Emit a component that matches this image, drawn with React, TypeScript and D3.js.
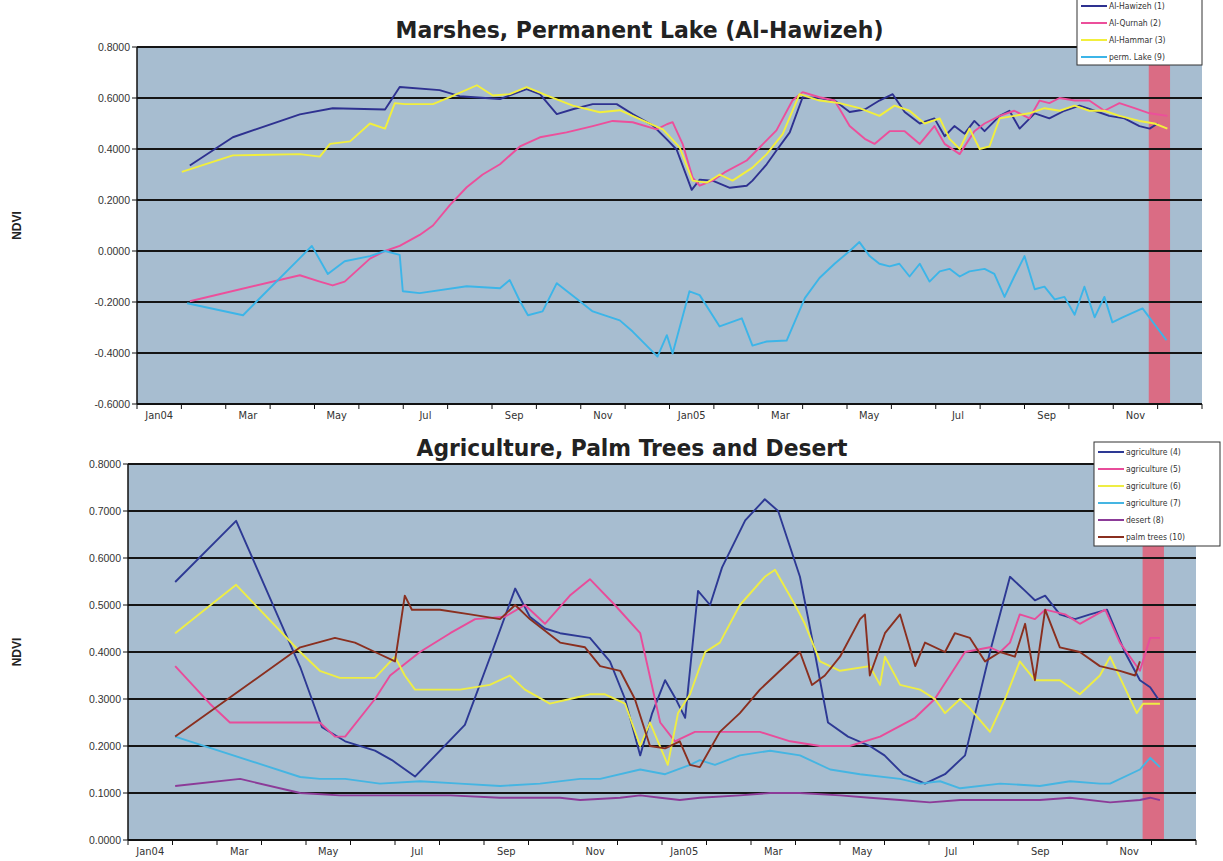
import React from "react";
import * as d3 from "d3";

// x values are months since 1 Jan 2004, y values are NDVI
type Pt = [number, number];

const monthLabels = ["Jan04", "Mar", "May", "Jul", "Sep", "Nov", "Jan05", "Mar", "May", "Jul", "Sep", "Nov"];
const marshTicks = [0.8, 0.6, 0.4, 0.2, 0, -0.2, -0.4, -0.6];
const landTicks = [0.8, 0.7, 0.6, 0.5, 0.4, 0.3, 0.2, 0.1, 0];
const alertBand = [22.8, 23.28];

const hawizeh: Pt[] = [[1.19,0.335],[2.16,0.446],[3.67,0.536],[4.41,0.56],[5.59,0.555],[5.92,0.643],[6.82,0.631],[7.27,0.607],[8.18,0.596],[8.78,0.635],[9.08,0.615],[9.46,0.537],[9.82,0.556],[10.27,0.576],[10.81,0.576],[11.17,0.537],[11.62,0.493],[11.94,0.438],[12.16,0.398],[12.5,0.24],[12.68,0.28],[12.97,0.276],[13.36,0.248],[13.74,0.256],[13.87,0.276],[14.19,0.34],[14.41,0.394],[14.71,0.465],[15.0,0.603],[15.38,0.6],[15.72,0.59],[16.06,0.545],[16.4,0.555],[16.73,0.59],[17.03,0.615],[17.3,0.545],[17.64,0.5],[17.97,0.52],[18.2,0.45],[18.42,0.49],[18.65,0.46],[18.87,0.51],[19.1,0.47],[19.44,0.53],[19.66,0.55],[19.89,0.48],[20.23,0.54],[20.56,0.52],[20.9,0.55],[21.24,0.57],[21.58,0.55],[21.91,0.53],[22.25,0.52],[22.59,0.49],[22.82,0.48],[23.0,0.5]];
const qurnah: Pt[] = [[1.19,-0.197],[3.67,-0.095],[4.12,-0.12],[4.41,-0.135],[4.68,-0.12],[5.25,-0.03],[5.59,0.0],[5.92,0.02],[6.37,0.063],[6.67,0.1],[7.05,0.18],[7.43,0.25],[7.79,0.3],[8.18,0.34],[8.63,0.41],[9.08,0.446],[9.68,0.465],[10.27,0.49],[10.72,0.51],[11.17,0.505],[11.71,0.477],[11.94,0.497],[12.07,0.505],[12.3,0.418],[12.52,0.288],[12.68,0.256],[12.97,0.276],[13.24,0.308],[13.74,0.355],[14.03,0.406],[14.41,0.473],[14.77,0.59],[15.0,0.623],[15.38,0.603],[15.72,0.59],[16.06,0.49],[16.4,0.44],[16.62,0.42],[16.96,0.47],[17.3,0.47],[17.64,0.42],[17.97,0.49],[18.2,0.42],[18.54,0.38],[18.87,0.47],[19.1,0.5],[19.44,0.53],[19.77,0.55],[20.11,0.52],[20.34,0.59],[20.56,0.58],[20.79,0.6],[21.13,0.59],[21.46,0.59],[21.8,0.55],[22.14,0.58],[22.48,0.56],[22.82,0.54],[23.22,0.53]];
const hammar: Pt[] = [[1.01,0.31],[2.16,0.375],[3.67,0.38],[4.12,0.37],[4.35,0.42],[4.8,0.43],[5.25,0.5],[5.59,0.48],[5.81,0.58],[6.04,0.576],[6.67,0.576],[7.05,0.603],[7.66,0.65],[8.02,0.61],[8.4,0.615],[8.78,0.643],[9.23,0.61],[9.82,0.57],[10.43,0.544],[10.88,0.552],[11.33,0.517],[11.85,0.477],[12.23,0.406],[12.52,0.276],[12.84,0.268],[13.13,0.3],[13.42,0.276],[13.87,0.327],[14.19,0.38],[14.55,0.458],[14.93,0.615],[15.38,0.59],[15.83,0.58],[16.28,0.56],[16.73,0.53],[17.07,0.57],[17.41,0.55],[17.75,0.5],[18.09,0.52],[18.31,0.44],[18.54,0.4],[18.76,0.48],[18.99,0.4],[19.21,0.41],[19.44,0.52],[19.77,0.53],[20.11,0.54],[20.45,0.56],[20.79,0.55],[21.13,0.57],[21.46,0.55],[21.8,0.55],[22.14,0.53],[22.59,0.51],[22.93,0.5],[23.22,0.48]];
const permLake: Pt[] = [[1.13,-0.205],[2.39,-0.252],[2.7,-0.197],[3.67,-0.028],[3.94,0.02],[4.3,-0.09],[4.68,-0.04],[5.25,-0.02],[5.59,0.0],[5.92,-0.015],[5.99,-0.158],[6.37,-0.165],[7.43,-0.138],[8.18,-0.146],[8.4,-0.114],[8.63,-0.197],[8.81,-0.252],[9.14,-0.237],[9.46,-0.126],[9.98,-0.197],[10.27,-0.237],[10.88,-0.272],[11.17,-0.316],[11.73,-0.414],[11.94,-0.33],[12.07,-0.402],[12.45,-0.158],[12.68,-0.173],[13.13,-0.296],[13.63,-0.264],[13.87,-0.371],[14.19,-0.355],[14.64,-0.351],[15.05,-0.185],[15.38,-0.106],[15.72,-0.05],[16.06,0.0],[16.28,0.035],[16.51,-0.02],[16.73,-0.05],[16.96,-0.06],[17.18,-0.05],[17.41,-0.1],[17.64,-0.05],[17.86,-0.12],[18.09,-0.08],[18.31,-0.07],[18.54,-0.1],[18.76,-0.08],[19.1,-0.07],[19.32,-0.09],[19.55,-0.18],[19.77,-0.1],[20.0,-0.02],[20.23,-0.15],[20.45,-0.14],[20.68,-0.19],[20.9,-0.18],[21.13,-0.25],[21.35,-0.14],[21.58,-0.26],[21.8,-0.18],[21.98,-0.28],[22.21,-0.26],[22.66,-0.225],[23.2,-0.35]];

const agri4: Pt[] = [[1.06,0.549],[2.43,0.679],[3.87,0.368],[4.36,0.24],[4.88,0.21],[5.55,0.19],[5.93,0.17],[6.45,0.135],[7.57,0.245],[8.18,0.4],[8.7,0.535],[9.03,0.475],[9.37,0.45],[9.71,0.44],[10.38,0.43],[10.83,0.38],[11.17,0.3],[11.51,0.18],[11.78,0.27],[12.07,0.34],[12.31,0.3],[12.52,0.26],[12.81,0.53],[13.08,0.5],[13.35,0.58],[13.87,0.68],[14.31,0.725],[14.61,0.7],[15.1,0.56],[15.37,0.43],[15.73,0.25],[16.18,0.22],[16.67,0.2],[17.0,0.18],[17.42,0.14],[17.91,0.12],[18.36,0.14],[18.81,0.18],[19.37,0.4],[19.82,0.56],[20.16,0.53],[20.38,0.51],[20.61,0.52],[20.94,0.48],[21.28,0.47],[21.62,0.48],[22.0,0.49],[22.4,0.4],[22.74,0.34],[22.97,0.325],[23.15,0.3]];
const agri5: Pt[] = [[1.06,0.37],[1.84,0.29],[2.29,0.25],[3.87,0.25],[4.31,0.25],[4.65,0.22],[4.88,0.22],[5.55,0.3],[5.89,0.35],[6.56,0.4],[7.24,0.44],[7.8,0.47],[8.47,0.475],[8.92,0.5],[9.37,0.46],[9.93,0.52],[10.38,0.555],[10.94,0.5],[11.51,0.44],[11.96,0.25],[12.29,0.21],[12.74,0.23],[13.3,0.23],[14.2,0.23],[14.88,0.21],[15.55,0.2],[16.22,0.2],[16.9,0.22],[17.69,0.26],[18.13,0.3],[18.47,0.35],[18.81,0.4],[19.37,0.41],[19.6,0.4],[19.82,0.42],[20.04,0.48],[20.38,0.47],[20.61,0.49],[21.06,0.48],[21.39,0.46],[21.96,0.49],[22.29,0.42],[22.74,0.36],[22.97,0.43],[23.19,0.43]];
const agri6: Pt[] = [[1.06,0.44],[2.43,0.543],[3.87,0.4],[4.31,0.36],[4.76,0.345],[5.55,0.345],[6.0,0.39],[6.22,0.35],[6.45,0.32],[7.46,0.32],[8.13,0.33],[8.58,0.35],[8.92,0.32],[9.48,0.29],[9.93,0.3],[10.38,0.31],[10.72,0.31],[11.17,0.29],[11.51,0.2],[11.73,0.25],[12.13,0.16],[12.36,0.27],[12.63,0.31],[12.97,0.4],[13.3,0.42],[13.75,0.5],[14.31,0.56],[14.54,0.575],[14.99,0.5],[15.21,0.46],[15.55,0.38],[16.0,0.36],[16.67,0.37],[16.9,0.33],[17.01,0.39],[17.35,0.33],[17.8,0.32],[18.13,0.3],[18.36,0.27],[18.7,0.3],[18.92,0.28],[19.37,0.23],[19.71,0.3],[20.04,0.38],[20.38,0.34],[20.94,0.34],[21.39,0.31],[21.84,0.35],[22.07,0.39],[22.67,0.27],[22.81,0.29],[23.19,0.29]];
const agri7: Pt[] = [[1.06,0.22],[3.87,0.134],[4.31,0.13],[4.88,0.13],[5.66,0.12],[6.56,0.125],[7.46,0.12],[8.36,0.115],[9.26,0.12],[10.16,0.13],[10.61,0.13],[11.51,0.15],[12.07,0.14],[12.63,0.16],[12.85,0.17],[13.19,0.16],[13.75,0.18],[14.43,0.19],[15.1,0.18],[15.78,0.15],[16.45,0.14],[17.35,0.13],[17.8,0.12],[18.25,0.125],[18.7,0.11],[19.6,0.12],[20.49,0.115],[21.17,0.125],[21.84,0.12],[22.07,0.12],[22.74,0.15],[22.97,0.175],[23.19,0.155]];
const desert: Pt[] = [[1.06,0.115],[2.52,0.13],[3.87,0.1],[4.76,0.095],[7.24,0.095],[8.36,0.09],[9.71,0.09],[10.16,0.085],[11.06,0.09],[11.51,0.095],[11.96,0.09],[12.4,0.085],[12.85,0.09],[13.75,0.095],[14.43,0.1],[15.1,0.1],[16.0,0.095],[16.67,0.09],[17.35,0.085],[18.02,0.08],[18.7,0.085],[19.6,0.085],[20.49,0.085],[21.17,0.09],[22.07,0.08],[22.74,0.085],[22.97,0.09],[23.19,0.085]];
const palmTrees: Pt[] = [[1.06,0.22],[3.87,0.41],[4.65,0.43],[5.1,0.42],[5.55,0.4],[6.0,0.38],[6.22,0.52],[6.38,0.49],[7.01,0.49],[7.69,0.48],[8.36,0.47],[8.7,0.5],[9.03,0.47],[9.71,0.42],[10.27,0.41],[10.61,0.37],[11.06,0.36],[11.39,0.3],[11.73,0.2],[12.07,0.195],[12.4,0.21],[12.63,0.16],[12.85,0.155],[13.3,0.23],[13.75,0.27],[14.2,0.32],[14.65,0.36],[15.1,0.4],[15.37,0.33],[15.66,0.35],[16.0,0.39],[16.45,0.47],[16.56,0.48],[16.67,0.35],[17.01,0.44],[17.35,0.48],[17.69,0.37],[17.91,0.42],[18.36,0.4],[18.58,0.44],[18.92,0.43],[19.26,0.38],[19.6,0.4],[19.93,0.39],[20.16,0.46],[20.38,0.34],[20.61,0.49],[20.94,0.41],[21.39,0.4],[21.84,0.37],[22.29,0.36],[22.63,0.35],[22.74,0.38]];

const marshSeries = [
  { name: "Al-Hawizeh (1)", color: "#2e3190", data: hawizeh },
  { name: "Al-Qurnah (2)", color: "#ec4f9b", data: qurnah },
  { name: "Al-Hammar (3)", color: "#f2ef3c", data: hammar },
  { name: "perm. Lake (9)", color: "#3cb5e8", data: permLake },
];
const landSeries = [
  { name: "agriculture (4)", color: "#2d3994", data: agri4 },
  { name: "agriculture (5)", color: "#e84c9a", data: agri5 },
  { name: "agriculture (6)", color: "#eeed44", data: agri6 },
  { name: "agriculture (7)", color: "#45b5e2", data: agri7 },
  { name: "desert (8)", color: "#8c3b98", data: desert },
  { name: "palm trees (10)", color: "#8a2f1f", data: palmTrees },
];

const narrow = "'Liberation Sans Narrow', 'Arial Narrow', 'DejaVu Sans Condensed', sans-serif";
const sans = "'Liberation Sans', Arial, sans-serif";

function Panel({ box, domain, ticks, series, title, titleY, titleLen, legend }) {
  const x = d3.scaleLinear().domain([0, 24]).range([box.left, box.right]);
  const y = d3.scaleLinear().domain(domain).range([box.bottom, box.top]);
  const line = d3.line<Pt>().x(d => x(d[0])).y(d => y(d[1]));
  const cx = (box.left + box.right) / 2;
  return (
    <g>
      <text x={cx - 30} y={titleY} textAnchor="middle" fontFamily={narrow} fontWeight="bold"
        fontSize={23} fill="#222" textLength={titleLen} lengthAdjust="spacingAndGlyphs">{title}</text>
      <text transform={`translate(21,${(box.top + box.bottom) / 2}) rotate(-90)`} textAnchor="middle"
        fontFamily={sans} fontWeight="bold" fontSize={12} fill="#222">NDVI</text>
      <rect x={box.left} y={box.top} width={box.right - box.left} height={box.bottom - box.top} fill="#a7bdd0" />
      <rect x={x(alertBand[0])} y={box.top} width={x(alertBand[1]) - x(alertBand[0])}
        height={box.bottom - box.top} fill="#da6c84" />
      {ticks.map(t => (
        <g key={t}>
          {t !== domain[0] && <line x1={box.left} x2={box.right} y1={y(t)} y2={y(t)} stroke="#151515" strokeWidth={2.2} />}
          <line x1={box.left - 5} x2={box.left} y1={y(t)} y2={y(t)} stroke="#111" />
          <text x={box.left - 7} y={y(t)} dy="0.35em" textAnchor="end" fontFamily={sans} fontSize={10.5} fill="#333">
            {t.toFixed(4)}
          </text>
        </g>
      ))}
      {series.map(s => (
        <path key={s.name} d={line(s.data)} fill="none" stroke={s.color} strokeWidth={1.9} strokeLinejoin="round" />
      ))}
      <line x1={box.left} x2={box.left} y1={box.top} y2={box.bottom} stroke="#111" strokeWidth={1.5} />
      <line x1={box.left} x2={box.right} y1={box.bottom} y2={box.bottom} stroke="#111" strokeWidth={2} />
      {d3.range(0, 25).map(m => (
        <line key={m} x1={x(m)} x2={x(m)} y1={box.bottom} y2={box.bottom + 5} stroke="#111" />
      ))}
      {monthLabels.map((lab, i) => (
        <text key={i} x={x(i * 2 + 0.5)} y={box.bottom + 15} textAnchor="middle" fontFamily={narrow}
          fontSize={11} fill="#333">{lab}</text>
      ))}
      <g>
        <rect x={legend.x} y={legend.y} width={legend.w} height={legend.h} fill="#fff" stroke="#333" />
        {series.map((s, i) => {
          const ly = legend.y + legend.pad + i * legend.step;
          return (
            <g key={s.name}>
              <line x1={legend.x + 4} x2={legend.x + 30} y1={ly} y2={ly} stroke={s.color} strokeWidth={2} />
              <text x={legend.x + 32} y={ly} dy="0.35em" fontFamily={narrow} fontSize={8.5} fill="#333">{s.name}</text>
            </g>
          );
        })}
      </g>
    </g>
  );
}

export default function App() {
  return (
    <svg width={1223} height={861} style={{ position: "absolute", left: 0, top: 0, background: "#fff" }}>
      <Panel
        box={{ left: 137, right: 1202, top: 47, bottom: 404 }}
        domain={[-0.6, 0.8]}
        ticks={marshTicks}
        series={marshSeries}
        title="Marshes, Permanent Lake (Al-Hawizeh)"
        titleY={38}
        titleLen={488}
        legend={{ x: 1077, y: -3, w: 125, h: 68, pad: 9, step: 17 }}
      />
      <Panel
        box={{ left: 128, right: 1196, top: 464, bottom: 840 }}
        domain={[0, 0.8]}
        ticks={landTicks}
        series={landSeries}
        title="Agriculture, Palm Trees and Desert"
        titleY={456}
        titleLen={431}
        legend={{ x: 1094, y: 442, w: 126, h: 104, pad: 10, step: 17 }}
      />
    </svg>
  );
}
